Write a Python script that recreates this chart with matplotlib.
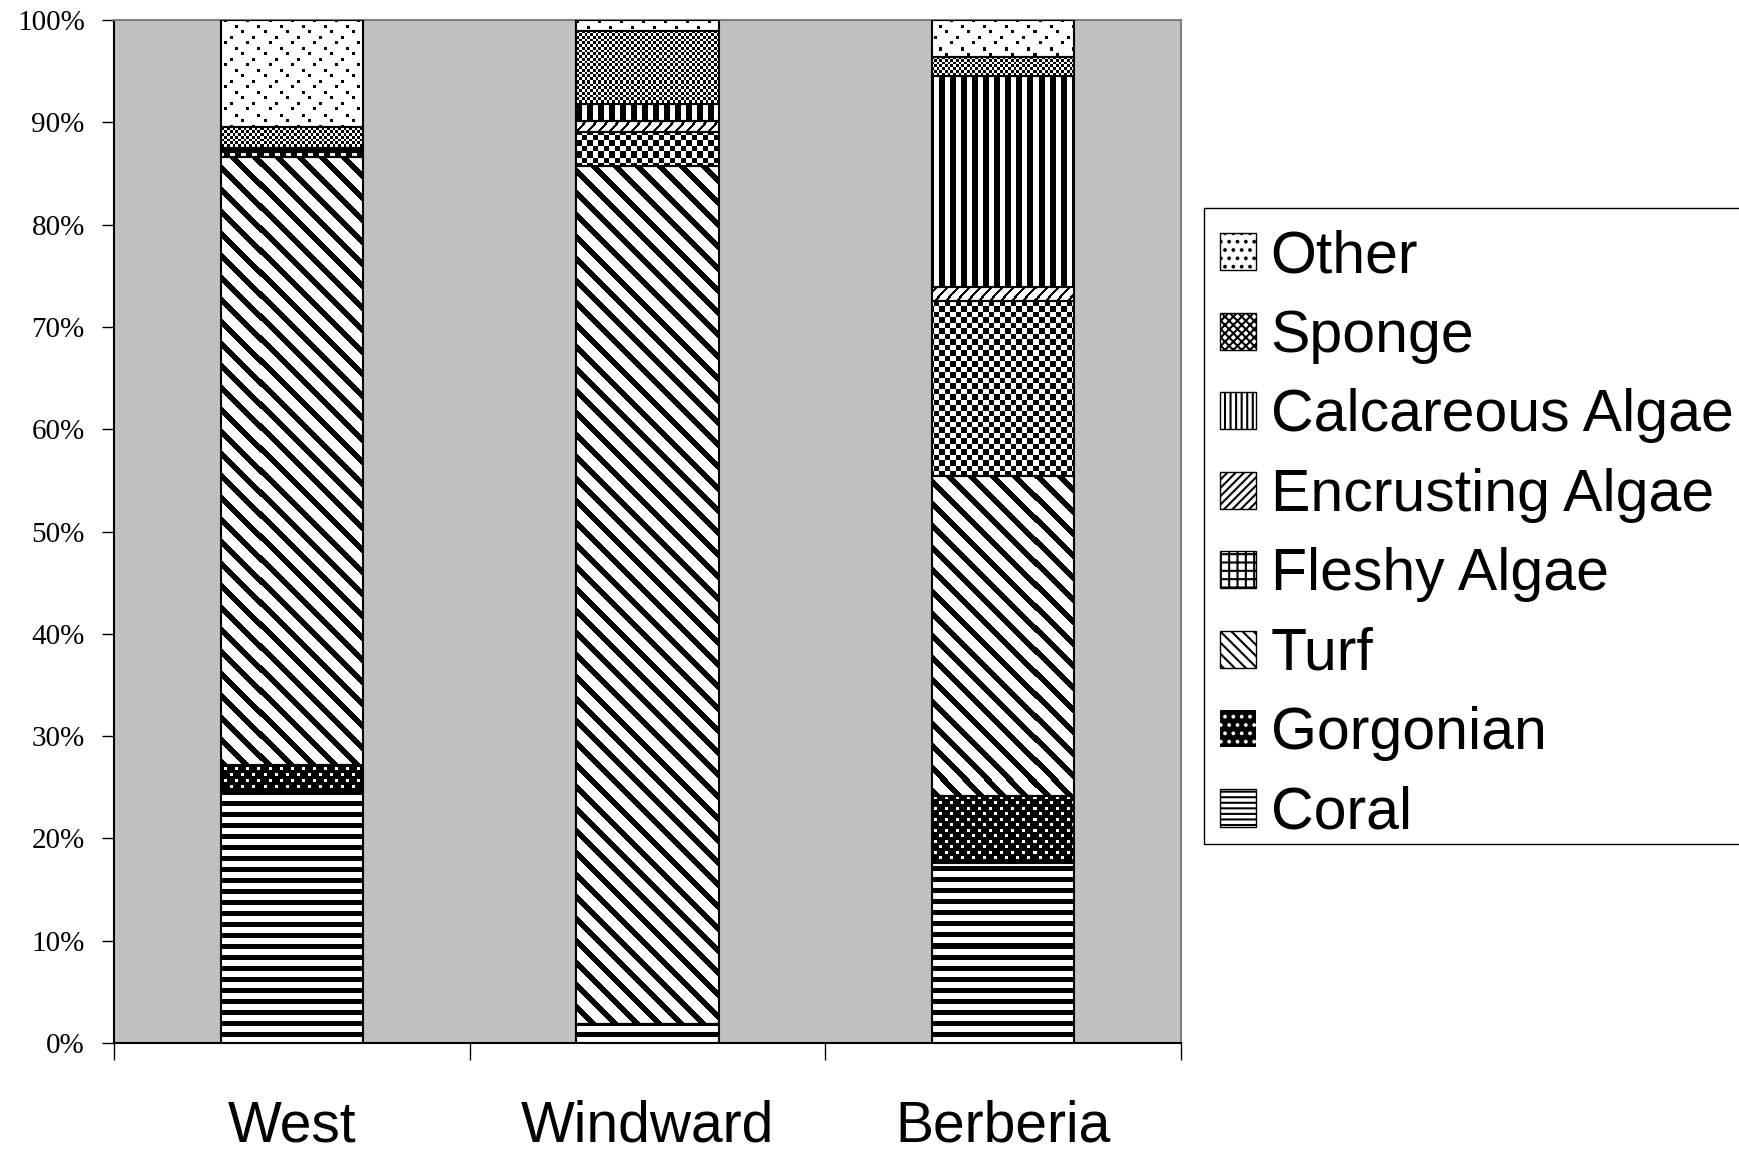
import numpy as np
import matplotlib
matplotlib.use('Agg')
import matplotlib.pyplot as plt
from matplotlib.patches import Rectangle

# ---------------- data ----------------
sites = ['West', 'Windward', 'Berberia']
categories = ['Coral', 'Gorgonian', 'Turf', 'Fleshy Algae', 'Encrusting Algae',
              'Calcareous Algae', 'Sponge', 'Other']
coral = [24.8, 1.9, 17.6]
gorgonian = [2.4, 0.0, 6.5]
turf = [59.4, 83.8, 31.3]
fleshy_algae = [0.5, 3.35, 17.1]
encrusting_algae = [0.2, 1.1, 1.4]
calcareous_algae = [0.2, 1.6, 20.6]
sponge = [2.0, 7.2, 1.85]
other = [10.5, 1.05, 3.65]
y_ticks = [0, 10, 20, 30, 40, 50, 60, 70, 80, 90, 100]
y_tick_labels = [f'{v}%' for v in y_ticks]

series = [coral, gorgonian, turf, fleshy_algae, encrusting_algae,
          calcareous_algae, sponge, other]

# ---------------- figure ----------------
W_FIG, H_FIG, DPI = 17.4, 11.53, 100
plt.rcParams['hatch.linewidth'] = 1.5
fig = plt.figure(figsize=(W_FIG, H_FIG), dpi=DPI)
ax_left, ax_bottom = 114 / 1740, 110 / 1153
ax_w, ax_h = 1067 / 1740, 1023 / 1153
ax = fig.add_axes([ax_left, ax_bottom, ax_w, ax_h])
ax.set_facecolor('#C0C0C0')

pix_w = int(round(ax_w * W_FIG * DPI))
pix_h = int(round(ax_h * H_FIG * DPI))
ii, jj = np.mgrid[0:pix_h, 0:pix_w].astype(float)


def texture(name):
    if name == 'Coral':
        black = (ii % 11) < 4.2
    elif name == 'Gorgonian':
        r = np.floor(ii / 5.5)
        dot = ((ii % 5.5) < 2.9) & (((jj + (r % 2) * 5.5) % 11) < 2.9)
        black = ~dot
    elif name == 'Turf':
        black = ((jj - ii) % 22) < 7.5
    elif name == 'Fleshy Algae':
        black = ((np.floor(ii / 5.5) + np.floor(jj / 5.5)) % 2) == 0
    elif name == 'Encrusting Algae':
        black = ((ii + jj) % 11) < 3
    elif name == 'Calcareous Algae':
        black = (jj % 11) < 5.5
    elif name == 'Sponge':
        black = ((np.floor(ii / 2.75) + np.floor(jj / 2.75)) % 2) == 0
    else:  # Other
        r = np.floor(ii / 5.5).astype(int)
        offs = np.array([0.0, 11.0, 5.5, 16.5])[r % 4]
        black = ((ii % 5.5) < 2.9) & (((jj + offs) % 22) < 2.9)
    v = np.where(black, 0, 255).astype(np.uint8)
    return np.dstack([v, v, v])


x = np.arange(len(sites))
bottoms = np.zeros(len(sites))
for cat, vals in zip(categories, series):
    vals = np.asarray(vals, dtype=float)
    bars = ax.bar(x, vals, width=0.4, bottom=bottoms, facecolor='none',
                  edgecolor='black', linewidth=1.5, zorder=3)
    img = texture(cat)
    for b in bars:
        im = ax.imshow(img, extent=(-0.5, 2.5, 0, 100), origin='upper',
                       aspect='auto', interpolation='nearest', zorder=2)
        im.set_clip_path(b)
    bottoms += vals

ax.set_xlim(-0.5, 2.5)
ax.set_ylim(0, 100)

# ticks
ax.set_yticks(y_ticks)
ax.set_yticklabels(y_tick_labels, fontfamily='Liberation Serif', fontsize=21)
ax.tick_params(axis='y', direction='out', length=9, width=1, pad=12, colors='black')
ax.set_xticks(x)
ax.set_xticklabels(sites, fontfamily='Liberation Sans', fontsize=41)
ax.tick_params(axis='x', which='major', length=0, pad=40.5)
ax.set_xticks([-0.5, 0.5, 1.5, 2.5], minor=True)
ax.tick_params(axis='x', which='minor', length=12, width=1, direction='out')

for s in ['left', 'bottom']:
    ax.spines[s].set_color('black')
    ax.spines[s].set_linewidth(1.5)
for s in ['top', 'right']:
    ax.spines[s].set_color('#808080')
    ax.spines[s].set_linewidth(1.5)

# legend
hatch_map = {'Other': '..', 'Sponge': 'xxxx', 'Calcareous Algae': '|||',
             'Encrusting Algae': '////', 'Fleshy Algae': '++',
             'Turf': '\\\\\\', 'Coral': '---'}
handles, labels = [], []
for cat in reversed(categories):
    if cat == 'Gorgonian':
        h = Rectangle((0, 0), 1, 1, facecolor='black', edgecolor='white',
                      hatch='..', linewidth=0)
    else:
        h = Rectangle((0, 0), 1, 1, facecolor='white', edgecolor='black',
                      hatch=hatch_map[cat], linewidth=1)
    handles.append(h)
    labels.append(cat)

leg = fig.legend(handles, labels, loc='upper left',
                 bbox_to_anchor=(1204 / 1740, 1 - 207.5 / 1153),
                 bbox_transform=fig.transFigure,
                 prop={'family': 'Liberation Sans', 'size': 42.5},
                 frameon=True, fancybox=False, shadow=False,
                 borderpad=0.21, labelspacing=0.415, handlelength=0.61,
                 handleheight=0.59, handletextpad=0.31, borderaxespad=0)
leg.get_frame().set_edgecolor('black')
leg.get_frame().set_linewidth(1.0)
leg.get_frame().set_facecolor('white')
leg.get_frame().set_alpha(1)

# nudge legend entries down inside the frame (texts sit low in the reference)
dy_px = 9.5
dy_pt = dy_px * 72 / DPI
dx_pt = 3.3 * 72 / DPI
for t in leg.get_texts():
    t.set_y(-dy_px)
for h in leg.legend_handles:
    h.set_y(h.get_y() - dy_pt)
    h.set_x(h.get_x() + dx_pt)

fig.savefig('out.png', dpi=DPI)
